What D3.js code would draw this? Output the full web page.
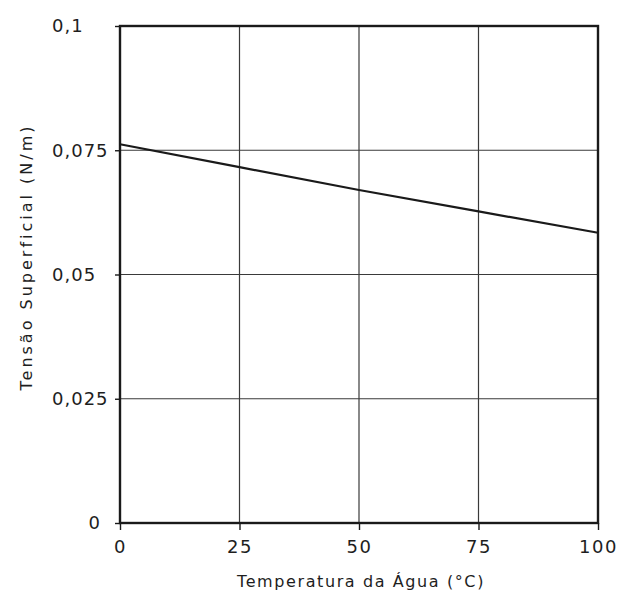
<!DOCTYPE html>
<html>
<head>
<meta charset="utf-8">
<script src="https://cdn.jsdelivr.net/npm/d3@7"></script>
<style>
  html, body { margin: 0; padding: 0; background: #fff; }
  svg { display: block; }
  text { font-family: "DejaVu Sans", sans-serif; fill: #1e1e1e; }
</style>
</head>
<body>
<svg id="chart" width="621" height="596"></svg>
<script>
// Data
const temperatures = [0, 25, 50, 75, 100];
const tension = [0.0762, 0.0716, 0.0670, 0.0627, 0.0584];
const xTicks = [0, 25, 50, 75, 100];
const yTicks = [0, 0.025, 0.05, 0.075, 0.1];
const yTickLabels = ["0", "0,025", "0,05", "0,075", "0,1"];
const xLabel = "Temperatura da Água (°C)";
const yLabel = "Tensão Superficial (N/m)";

(function () {
const svg = d3.select("#chart");
const pL = 120, pR = 598, pT = 26, pB = 523;

const x = d3.scaleLinear().domain([0, 100]).range([pL, pR]);
const y = d3.scaleLinear().domain([0, 0.1]).range([pB, pT]);

// Grid
const grid = svg.append("g");
grid.selectAll("line.gx").data(xTicks.slice(1, -1)).join("line")
  .attr("x1", d => x(d)).attr("x2", d => x(d))
  .attr("y1", pT).attr("y2", pB)
  .attr("stroke", "#3a3a3a").attr("stroke-width", 1.2);
grid.selectAll("line.gy").data(yTicks.slice(1, -1)).join("line")
  .attr("x1", pL).attr("x2", pR)
  .attr("y1", d => y(d)).attr("y2", d => y(d))
  .attr("stroke", "#3a3a3a").attr("stroke-width", 1.2);

// Frame
svg.append("rect")
  .attr("x", pL).attr("y", pT)
  .attr("width", pR - pL).attr("height", pB - pT)
  .attr("fill", "none").attr("stroke", "#1a1a1a").attr("stroke-width", 2.4);

// X axis ticks and labels
const xAxis = d3.axisBottom(x).tickValues(xTicks).tickSize(7).tickPadding(10)
  .tickFormat(d => String(d));
const gx = svg.append("g").attr("transform", `translate(0,${pB})`).call(xAxis);
gx.select(".domain").remove();
gx.selectAll(".tick line").attr("stroke", "#1a1a1a").attr("stroke-width", 1.4);
gx.selectAll(".tick text")
  .attr("font-size", 18).attr("letter-spacing", "1.5px")
  .attr("fill", "#1e1e1e").style("font-family", "DejaVu Sans, sans-serif");

// Y axis ticks and labels
const yAxis = d3.axisLeft(y).tickValues(yTicks).tickSize(5).tickPadding(8)
  .tickFormat((d, i) => yTickLabels[i]);
const gy = svg.append("g").attr("transform", `translate(${pL},0)`).call(yAxis);
gy.select(".domain").remove();
gy.selectAll(".tick line").attr("stroke", "#1a1a1a").attr("stroke-width", 1.4);
gy.selectAll(".tick text")
  .attr("font-size", 18).attr("letter-spacing", "1px")
  .attr("fill", "#1e1e1e").style("font-family", "DejaVu Sans, sans-serif")
  .attr("text-anchor", d => d === 0 ? "end" : "start")
  .attr("x", d => d === 0 ? -19 : -68);

// Data line
const line = d3.line().x((d, i) => x(temperatures[i])).y(d => y(d));
svg.append("path").datum(tension)
  .attr("d", line)
  .attr("fill", "none").attr("stroke", "#1a1a1a").attr("stroke-width", 2.2);

// Axis titles
svg.append("text")
  .attr("x", (pL + pR) / 2 + 2).attr("y", 587)
  .attr("text-anchor", "middle")
  .attr("font-size", 16).attr("letter-spacing", "1.6px")
  .text(xLabel);

svg.append("text")
  .attr("transform", `translate(32,${(118 + 396) / 2}) rotate(-90)`)
  .attr("text-anchor", "middle")
  .attr("font-size", 16).attr("letter-spacing", "3px")
  .text(yLabel);
})();
</script>
</body>
</html>
